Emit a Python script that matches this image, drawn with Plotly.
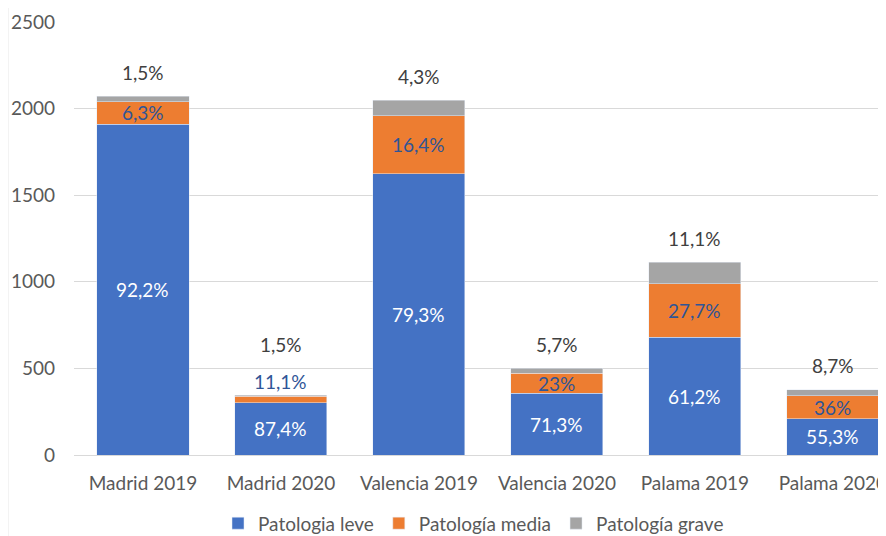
import plotly.graph_objects as go

categories = ["Madrid 2019", "Madrid 2020", "Valencia 2019", "Valencia 2020", "Palama 2019", "Palama 2020"]
leve = [1910, 301, 1624, 357, 681, 208]
media = [130, 38, 336, 115, 308, 135]
grave = [31, 5, 88, 29, 123, 33]
leve_lbl = ["92,2%", "87,4%", "79,3%", "71,3%", "61,2%", "55,3%"]
media_lbl = ["6,3%", "11,1%", "16,4%", "23%", "27,7%", "36%"]
grave_lbl = ["1,5%", "1,5%", "4,3%", "5,7%", "11,1%", "8,7%"]
y_ticks = [0, 500, 1000, 1500, 2000, 2500]

FONT = "Lato"
FS = 19
BLUE, ORANGE, GRAY = "#4472C4", "#ED7D31", "#A5A5A5"

fig = go.Figure()
fig.add_trace(go.Bar(x=categories, y=leve, name="Patologia leve", marker_color=BLUE))
fig.add_trace(go.Bar(x=categories, y=media, name="Patología media", marker_color=ORANGE))
fig.add_trace(go.Bar(x=categories, y=grave, name="Patología grave", marker_color=GRAY))

ann = []
for i, c in enumerate(categories):
    total = leve[i] + media[i] + grave[i]
    ann.append(dict(x=c, y=leve[i] / 2, text=leve_lbl[i], showarrow=False,
                    font=dict(family=FONT, size=FS, color="white")))
    if media[i] < 60:
        ann.append(dict(x=c, y=total, text=media_lbl[i], showarrow=False, yshift=14,
                        font=dict(family=FONT, size=FS, color="#2F5597")))
        gshift = 51
    else:
        ann.append(dict(x=c, y=leve[i] + media[i] / 2, text=media_lbl[i], showarrow=False,
                        font=dict(family=FONT, size=FS, color="#2F5597")))
        gshift = 24
    ann.append(dict(x=c, y=total, text=grave_lbl[i], showarrow=False, yshift=gshift,
                    font=dict(family=FONT, size=FS, color="#404040")))

fig.update_layout(
    barmode="stack",
    bargap=0.333,
    width=878, height=528,
    margin=dict(l=66, r=0, t=14, b=81),
    plot_bgcolor="white", paper_bgcolor="white",
    font=dict(family=FONT, size=FS, color="#595959"),
    annotations=ann,
    showlegend=True,
    legend=dict(orientation="h", x=0.492, xanchor="center", yref="container", y=0.024,
                yanchor="middle", font=dict(family=FONT, size=FS, color="#595959"),
                traceorder="normal", itemwidth=30),
    shapes=[dict(type="line", xref="paper", yref="paper", x0=-0.0813, x1=-0.0813, y0=-0.3, y1=1.1,
                 line=dict(color="#E6E6E6", width=1))],
)
fig.update_xaxes(range=[-0.5, 5.385], showgrid=False, showline=False, ticks="",
                 tickfont=dict(family=FONT, size=FS, color="#595959"), ticklabelstandoff=15)
fig.update_yaxes(range=[0, 2500], tickvals=y_ticks, showgrid=True, gridcolor="#D9D9D9", gridwidth=1,
                 zeroline=True, zerolinecolor="#D9D9D9", zerolinewidth=1, showline=False,
                 tickfont=dict(family=FONT, size=FS, color="#595959"), ticklabelstandoff=18)

fig.write_html("out.html")
